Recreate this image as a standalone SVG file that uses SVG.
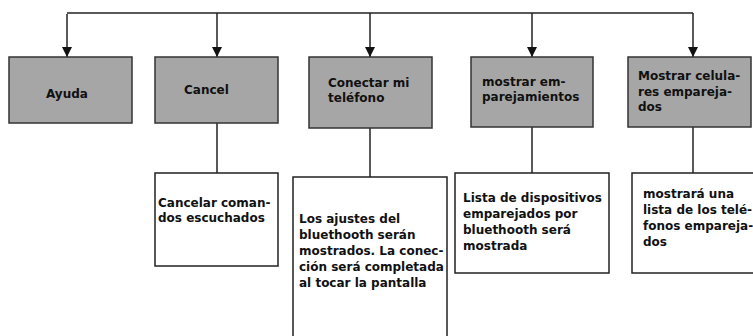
<svg xmlns="http://www.w3.org/2000/svg" width="753" height="336" viewBox="0 0 753 336">
<style>
.top{fill:#a6a6a6;stroke:#333;stroke-width:1.5}
.bot{fill:#fff;stroke:#222;stroke-width:1.5}
.t{font-family:"DejaVu Sans",Verdana,sans-serif;font-weight:bold;font-size:12px;fill:#111}
.c{fill:none;stroke:#222;stroke-width:1.5}
</style>
<defs>
<marker id="ah" viewBox="0 0 10 10" refX="10" refY="5" markerWidth="10" markerHeight="10" markerUnits="userSpaceOnUse" orient="auto">
<path d="M0,0 L10,5 L0,10 z" fill="#111"/>
</marker>
</defs>
<rect width="753" height="336" fill="#fff"/>
<g id="connectors">
<path class="c" d="M67,14 V57" marker-end="url(#ah)"/>
<path class="c" d="M67,13 H693"/>
<path class="c" d="M217,13 V57" marker-end="url(#ah)"/>
<path class="c" d="M370,13 V57" marker-end="url(#ah)"/>
<path class="c" d="M532,13 V57" marker-end="url(#ah)"/>
<path class="c" d="M693,13 V57" marker-end="url(#ah)"/>
<path class="c" d="M217,123 V173"/>
<path class="c" d="M370,128 V177"/>
<path class="c" d="M532,127 V173"/>
<path class="c" d="M693,127 V173"/>
</g>
<g id="ayuda">
<rect class="top" x="9" y="57" width="123" height="66"/>
<text class="t" x="46" y="98">Ayuda</text>
</g>
<g id="cancel">
<rect class="top" x="155" y="57" width="123" height="66"/>
<text class="t" x="184" y="94">Cancel</text>
</g>
<g id="conectar">
<rect class="top" x="309" y="57" width="123" height="71"/>
<text class="t" x="328" y="87">Conectar mi</text>
<text class="t" x="328" y="102">teléfono</text>
</g>
<g id="mostrar-emparejamientos">
<rect class="top" x="471" y="57" width="122" height="70"/>
<text class="t" x="482" y="86">mostrar em-</text>
<text class="t" x="482" y="101">parejamientos</text>
</g>
<g id="mostrar-celulares">
<rect class="top" x="628" y="57" width="123" height="70"/>
<text class="t" x="638" y="80">Mostrar celula-</text>
<text class="t" x="638" y="96">res empareja-</text>
<text class="t" x="638" y="111">dos</text>
</g>
<g id="cancelar-comandos">
<rect class="bot" x="155" y="173" width="123" height="93"/>
<text class="t" x="158" y="207">Cancelar coman-</text>
<text class="t" x="158" y="222">dos escuchados</text>
</g>
<g id="ajustes-bluetooth">
<rect class="bot" x="293" y="177" width="154" height="170"/>
<text class="t" x="299" y="223">Los ajustes del</text>
<text class="t" x="299" y="239">bluethooth serán</text>
<text class="t" x="299" y="255">mostrados. La conec-</text>
<text class="t" x="299" y="271">ción será completada</text>
<text class="t" x="299" y="287">al tocar la pantalla</text>
</g>
<g id="lista-dispositivos">
<rect class="bot" x="455" y="173" width="154" height="100"/>
<text class="t" x="463" y="202">Lista de dispositivos</text>
<text class="t" x="463" y="218">emparejados por</text>
<text class="t" x="463" y="234">bluethooth será</text>
<text class="t" x="463" y="250">mostrada</text>
</g>
<g id="lista-telefonos">
<rect class="bot" x="632" y="173" width="130" height="100"/>
<text class="t" x="643" y="198">mostrará una</text>
<text class="t" x="643" y="214">lista de los telé-</text>
<text class="t" x="643" y="230">fonos empareja-</text>
<text class="t" x="643" y="246">dos</text>
</g>
</svg>
